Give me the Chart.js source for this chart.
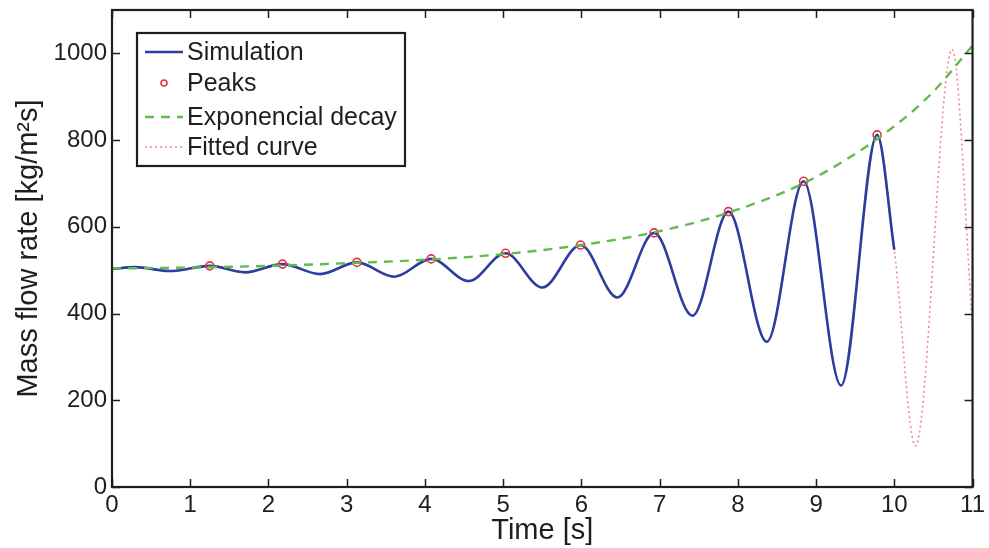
<!DOCTYPE html>
<html>
<head>
<meta charset="utf-8">
<script src="https://cdn.jsdelivr.net/npm/chart.js@4.4.1/dist/chart.umd.min.js"></script>
<style>
  html, body { margin: 0; padding: 0; background: #fff; }
  #wrap { width: 989px; height: 548px; position: relative; }
</style>
</head>
<body>
<div id="wrap"><canvas id="c" width="989" height="548"></canvas></div>
<script>
// ---- Data ----
const simTime  = [0, 0.30, 0.74, 1.25, 1.70, 2.18, 2.66, 3.13, 3.61, 4.08, 4.56, 5.03, 5.50, 5.99, 6.46, 6.93, 7.42, 7.88, 8.37, 8.84, 9.32, 9.78, 10.0];
const simValue = [503, 507, 498, 510, 495, 514, 491, 518, 485, 526, 475, 539, 460, 558, 437, 586, 395, 635, 335, 705, 234, 812, 547];

const peakTime  = [1.25, 2.18, 3.13, 4.08, 5.03, 5.99, 6.93, 7.88, 8.84, 9.78];
const peakValue = [510, 514, 518, 526, 539, 558, 586, 635, 705, 812];

const expTime  = [0, 1, 2, 3, 4, 5, 6, 7, 8, 9, 10, 10.5, 11];
const expValue = [504, 506, 510, 516, 524, 537, 558, 590, 640, 715, 832, 912, 1018];

const fitTime  = [0, 0.30, 0.74, 1.25, 1.70, 2.18, 2.66, 3.13, 3.61, 4.08, 4.56, 5.03, 5.50, 5.99, 6.46, 6.93, 7.42, 7.88, 8.37, 8.84, 9.32, 9.78, 10.0, 10.27, 10.74, 11.0];
const fitValue = [503, 507, 498, 510, 495, 514, 491, 518, 485, 526, 475, 539, 460, 558, 437, 586, 395, 635, 335, 705, 234, 812, 547, 95, 1009, 369];

const seriesLabels = ['Simulation', 'Peaks', 'Exponencial decay', 'Fitted curve'];
const xTickValues = [0, 1, 2, 3, 4, 5, 6, 7, 8, 9, 10, 11];
const yTickValues = [0, 200, 400, 600, 800, 1000];
const xTitle = 'Time [s]';
const yTitle = 'Mass flow rate [kg/m\u00B2s]';

const pts = (xs, ys) => xs.map((x, i) => ({ x: x, y: ys[i] }));

const FONT = '"Liberation Sans", Arial, Helvetica, sans-serif';
const INK = '#1e1e1e';

// Frame with inward ticks on all four sides (MATLAB box style)
const framePlugin = {
  id: 'frame',
  afterDraw(chart) {
    const { ctx, chartArea: a, scales } = chart;
    const tl = 8;
    ctx.save();
    ctx.strokeStyle = INK;
    ctx.lineWidth = 1.5;
    ctx.beginPath();
    xTickValues.forEach(v => {
      const px = Math.round(scales.x.getPixelForValue(v)) + 0.5;
      ctx.moveTo(px, a.bottom); ctx.lineTo(px, a.bottom - tl);
      ctx.moveTo(px, a.top); ctx.lineTo(px, a.top + tl);
    });
    yTickValues.forEach(v => {
      const py = Math.round(scales.y.getPixelForValue(v)) + 0.5;
      ctx.moveTo(a.left, py); ctx.lineTo(a.left + tl, py);
      ctx.moveTo(a.right, py); ctx.lineTo(a.right - tl, py);
    });
    ctx.stroke();
    ctx.lineWidth = 2.2;
    ctx.strokeRect(a.left, a.top, a.right - a.left, a.bottom - a.top);
    ctx.restore();
  }
};

// Boxed legend inside the plot area, top-left
const legendPlugin = {
  id: 'boxLegend',
  afterDraw(chart) {
    const { ctx, chartArea: a } = chart;
    const bx = a.left + 25, by = a.top + 23, bw = 268, bh = 133;
    ctx.save();
    ctx.fillStyle = '#fff';
    ctx.fillRect(bx, by, bw, bh);
    ctx.strokeStyle = INK;
    ctx.lineWidth = 2.2;
    ctx.strokeRect(bx, by, bw, bh);
    ctx.font = '25px ' + FONT;
    ctx.textBaseline = 'middle';
    ctx.textAlign = 'left';
    const rowY = [19, 50, 84, 114];
    const ds = chart.data.datasets;
    [0, 1, 2, 3].forEach((di, r) => {
      const d = ds[di];
      const y = by + rowY[r];
      const lx0 = bx + 8, lx1 = bx + 46;
      if (d.showLine === false) {
        ctx.beginPath();
        ctx.lineWidth = d.pointBorderWidth;
        ctx.strokeStyle = d.pointBorderColor;
        ctx.arc((lx0 + lx1) / 2, y, 3, 0, Math.PI * 2);
        ctx.stroke();
      } else {
        ctx.beginPath();
        ctx.setLineDash(d.borderDash || []);
        ctx.lineWidth = d.borderWidth;
        ctx.strokeStyle = d.borderColor;
        ctx.moveTo(lx0, y); ctx.lineTo(lx1, y);
        ctx.stroke();
        ctx.setLineDash([]);
      }
      ctx.fillStyle = INK;
      ctx.fillText(d.label, bx + 50, y + 1);
    });
    ctx.restore();
  }
};

new Chart(document.getElementById('c'), {
  type: 'line',
  data: {
    datasets: [
      {
        label: seriesLabels[0],
        data: pts(simTime, simValue),
        borderColor: '#2b3d9e',
        borderWidth: 2.6,
        pointRadius: 0,
        cubicInterpolationMode: 'monotone',
        order: 2
      },
      {
        label: seriesLabels[1],
        data: pts(peakTime, peakValue),
        showLine: false,
        pointStyle: 'circle',
        pointRadius: 4,
        pointBorderWidth: 1.6,
        pointBorderColor: '#e8343a',
        pointBackgroundColor: 'rgba(0,0,0,0)',
        borderColor: '#e8343a',
        order: 1
      },
      {
        label: seriesLabels[2],
        data: pts(expTime, expValue),
        borderColor: '#62bb4c',
        borderWidth: 2.4,
        borderDash: [9, 7],
        pointRadius: 0,
        cubicInterpolationMode: 'monotone',
        order: 0
      },
      {
        label: seriesLabels[3],
        data: pts(fitTime, fitValue),
        borderColor: '#f08a8c',
        borderWidth: 1.6,
        borderDash: [2, 3],
        pointRadius: 0,
        cubicInterpolationMode: 'monotone',
        order: 3
      }
    ]
  },
  options: {
    responsive: false,
    animation: false,
    events: [],
    layout: { padding: { top: 10, right: 16, left: 0, bottom: 0 } },
    plugins: {
      legend: { display: false },
      tooltip: { enabled: false }
    },
    scales: {
      x: {
        type: 'linear',
        min: 0, max: 11,
        afterFit(s) { s.height = 61; },
        afterBuildTicks(s) { s.ticks = xTickValues.map(v => ({ value: v })); },
        grid: { display: false, drawTicks: false },
        border: { display: false },
        ticks: {
          autoSkip: false, maxRotation: 0, padding: 4,
          color: INK, font: { family: FONT, size: 24 },
          callback: v => String(v)
        },
        title: {
          display: true, text: xTitle, color: INK,
          font: { family: FONT, size: 29 },
          padding: { top: 0, bottom: 0 }
        }
      },
      y: {
        type: 'linear',
        min: 0, max: 1100,
        afterFit(s) { s.width = 112; s.paddingTop = 0; s.paddingBottom = 0; },
        afterBuildTicks(s) { s.ticks = yTickValues.map(v => ({ value: v })); },
        grid: { display: false, drawTicks: false },
        border: { display: false },
        ticks: {
          padding: 5, color: INK,
          font: { family: FONT, size: 24 },
          callback: v => String(v)
        },
        title: {
          display: true, text: yTitle, color: INK,
          font: { family: FONT, size: 29 },
          padding: { top: 12, bottom: 0 }
        }
      }
    }
  },
  plugins: [framePlugin, legendPlugin]
});
</script>
</body>
</html>
